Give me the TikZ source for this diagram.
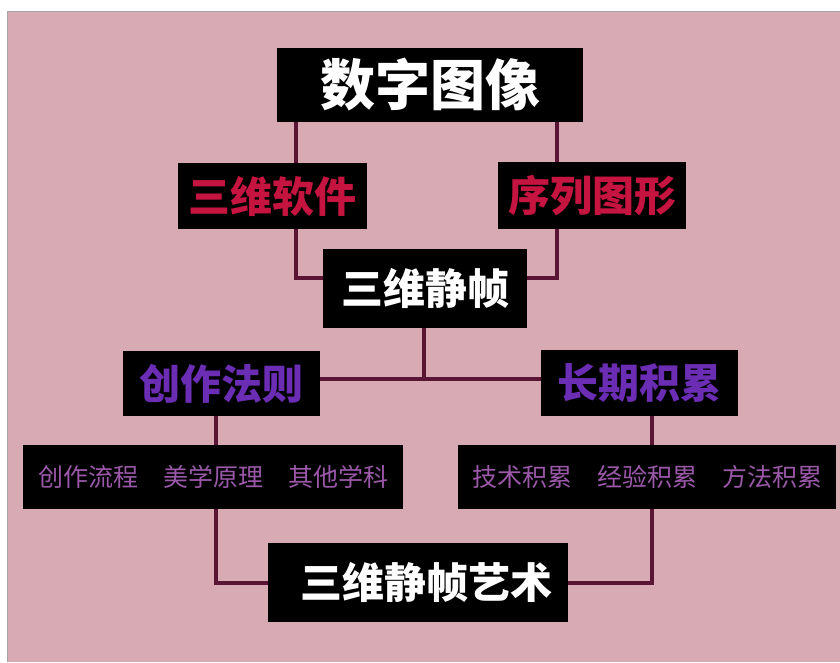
\documentclass[tikz,border=0pt]{standalone}
\usepackage{fontspec}
\newfontfamily\cjk{Noto Sans CJK SC}
\definecolor{bgpink}{HTML}{D8AAB3}
\definecolor{linecol}{HTML}{5A1535}
\definecolor{redtxt}{HTML}{C4143F}
\definecolor{purtxt}{HTML}{6A2DB3}
\definecolor{subtxt}{HTML}{9B58A9}
\tikzset{
  box/.style={fill=black, inner sep=0pt, text=white, font=\cjk\bfseries},
  conn/.style={draw=linecol, line width=4pt},
}
\begin{document}
\begin{tikzpicture}[x=1pt, y=-1pt]
\useasboundingbox (0,0) rectangle (840,662);
\fill[white] (0,0) rectangle (840,662);
\fill[bgpink] (7,11) rectangle (840,662);
\draw[gray!70, line width=1pt] (7,662) -- (7,11) -- (840,11);

\node[box, minimum width=306pt, minimum height=74pt, font=\cjk\bfseries\fontsize{55}{55}\selectfont] (top) at (430,85) {数字图像};
\node[box, minimum width=189pt, minimum height=66pt, text=redtxt, font=\cjk\bfseries\fontsize{42}{42}\selectfont] (soft) at (272.5,196) {三维软件};
\node[box, minimum width=188pt, minimum height=67pt, text=redtxt, font=\cjk\bfseries\fontsize{42}{42}\selectfont] (seq) at (592,195.5) {序列图形};
\node[box, minimum width=204pt, minimum height=79pt, font=\cjk\bfseries\fontsize{42}{42}\selectfont] (still) at (425,288.5) {三维静帧};
\node[box, minimum width=197pt, minimum height=65pt, text=purtxt, font=\cjk\bfseries\fontsize{41}{41}\selectfont] (rule) at (221.5,383.5) {创作法则};
\node[box, minimum width=197pt, minimum height=66pt, text=purtxt, font=\cjk\bfseries\fontsize{41}{41}\selectfont] (acc) at (639.5,383) {长期积累};
\node[box, minimum width=380pt, minimum height=64pt, text=subtxt, font=\cjk\fontsize{25}{25}\selectfont] (lgrp) at (213,477) {创作流程\hspace{1em}美学原理\hspace{1em}其他学科};
\node[box, minimum width=378pt, minimum height=64pt, text=subtxt, font=\cjk\fontsize{25}{25}\selectfont] (rgrp) at (647,477) {技术积累\hspace{1em}经验积累\hspace{1em}方法积累};
\node[box, minimum width=300pt, minimum height=79pt, font=\cjk\bfseries\fontsize{42}{42}\selectfont] (art) at (418,582.5) {\hspace{16pt}三维静帧艺术};

\coordinate (xa) at (296,0);
\coordinate (xb) at (556.5,0);
\coordinate (xc) at (424,0);
\coordinate (xd) at (216,0);
\coordinate (xe) at (651.5,0);

\draw[conn] (top.south -| xa) -- (soft.north -| xa);
\draw[conn] (soft.south -| xa) |- ([yshift=10.5pt]still.west);
\draw[conn] (top.south -| xb) -- (seq.north -| xb);
\draw[conn] (seq.south -| xb) |- ([yshift=10.5pt]still.east);
\draw[conn] (still.south -| xc) -- ([yshift=4.5pt]rule.east -| xc);
\draw[conn] ([yshift=4.5pt]rule.east) -- ([yshift=4pt]acc.west);
\draw[conn] (rule.south -| xd) -- (lgrp.north -| xd);
\draw[conn] (acc.south -| xe) -- (rgrp.north -| xe);
\draw[conn] (lgrp.south -| xd) |- (art.west);
\draw[conn] (rgrp.south -| xe) |- (art.east);
\end{tikzpicture}
\end{document}
